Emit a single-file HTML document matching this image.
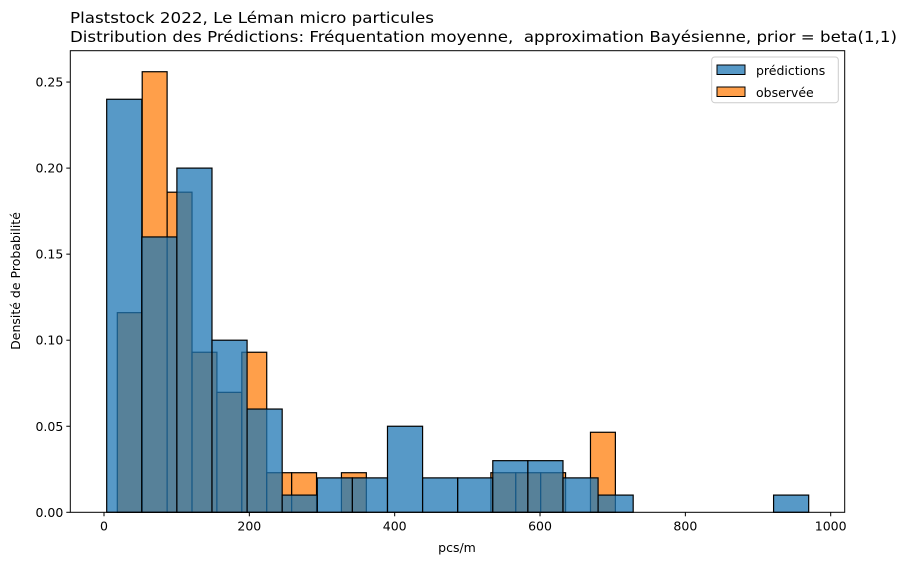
<!DOCTYPE html>
<html><head><meta charset="utf-8"><style>
body{margin:0;background:#fff;}
svg{display:block;font-family:"DejaVu Sans","Liberation Sans",sans-serif;}
text{white-space:pre;}
</style></head><body>
<svg id="chart" width="909" height="565" viewBox="0 0 909 565">
<g id="plot"></g>
</svg>
<script>
const predStart = 3.7;
const predWidth = 48.3;
const predValues = [0.24,0.16,0.20,0.10,0.06,0.01,0.02,0.02,0.05,0.02,0.02,0.03,0.03,0.02,0.01,0,0,0,0,0.01];
const obsStart = 18.3;
const obsWidth = 34.27;
const obsValues = [0.116,0.256,0.186,0.093,0.0697,0.093,0.023,0.023,0,0.023,0,0,0,0,0,0.023,0.023,0.023,0,0.0465];
const xTicks = [0,200,400,600,800,1000];
const yTicks = [0,0.05,0.10,0.15,0.20,0.25];
const yTickLabels = ["0.00","0.05","0.10","0.15","0.20","0.25"];
const legendLabels = ["prédictions","observée"];

const L=70.3,R=844.7,T=50.7,B=512.3;
const xs = v => 104 + v*0.7267;
const ys = v => B - v*1721;
const NS="http://www.w3.org/2000/svg";
const g=document.getElementById('plot');
function mk(tag,attrs,parent){const e=document.createElementNS(NS,tag);for(const k in attrs)e.setAttribute(k,attrs[k]);(parent||g).appendChild(e);return e;}

function bars(vals,start,w,color,name){
  vals.forEach((v,i)=>{
    if(v<=0)return;
    const x0=xs(start+i*w),x1=xs(start+(i+1)*w);
    const r=mk('rect',{x:x0,y:ys(v),width:x1-x0,height:B-ys(v),fill:color,'fill-opacity':0.75,stroke:'#000','stroke-width':1.2});
    
    
  });
}
bars(obsValues,obsStart,obsWidth,'#ff7f0e','observed');
bars(predValues,predStart,predWidth,'#1f77b4','prediction');

const ax=mk('rect',{x:L,y:T,width:R-L,height:B-T,fill:'none',stroke:'#000','stroke-width':1});


xTicks.forEach(t=>{
  const x=xs(t);
  mk('line',{x1:x,x2:x,y1:B,y2:B+4,stroke:'#000'});
  const tx=mk('text',{x:x,y:B+18,'font-size':12.5,'text-anchor':'middle'});tx.textContent=t;
  
});
yTicks.forEach((t,i)=>{
  const y=ys(t);
  mk('line',{x1:L-4,x2:L,y1:y,y2:y,stroke:'#000'});
  const tx=mk('text',{x:L-7,y:y+4.5,'font-size':12.5,'text-anchor':'end'});tx.textContent=yTickLabels[i];
  
});

const xt=mk('text',{x:457,y:552,'font-size':12.5,'text-anchor':'middle'});xt.textContent='pcs/m';

const yt=mk('text',{x:20,y:281,'font-size':12.5,'text-anchor':'middle',transform:'rotate(-90 20 281)'});yt.textContent='Densité de Probabilité';


const t1=mk('text',{x:70,y:23,'font-size':15,textLength:364,lengthAdjust:'spacingAndGlyphs'});t1.textContent='Plaststock 2022, Le Léman micro particules';

const t2=mk('text',{x:70,y:42,'font-size':15,textLength:827,lengthAdjust:'spacingAndGlyphs'});t2.textContent='Distribution des Prédictions: Fréquentation moyenne,  approximation Bayésienne, prior = beta(1,1)';


const lg=mk('g',{});

mk('rect',{x:711.7,y:57,width:126.6,height:45.7,rx:3,fill:'#fff','fill-opacity':0.8,stroke:'#ccc'},lg);
const cols=['#1f77b4','#ff7f0e'];
legendLabels.forEach((lab,i)=>{
  const y=65+i*22;
  mk('rect',{x:717,y:y,width:28,height:9.5,fill:cols[i],'fill-opacity':0.75,stroke:'#000'},lg);
  const tx=mk('text',{x:756,y:y+10,'font-size':12.5},lg);tx.textContent=lab;
  
});
</script>
</body></html>
